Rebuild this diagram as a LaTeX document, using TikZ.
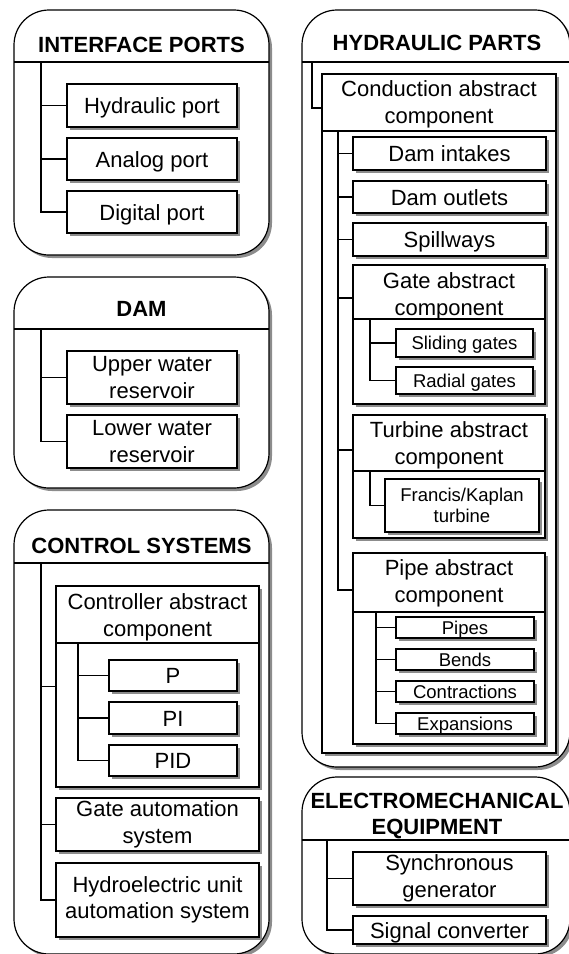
\documentclass[tikz,border=0pt]{standalone}
\usepackage{fontspec}
\setmainfont{Liberation Sans}
\usetikzlibrary{shadows}
\newcommand\fReg{\fontsize{22}{26.5}\selectfont}
\newcommand\fSml{\fontsize{18.5}{21.5}\selectfont}
\newcommand\fTtl{\fontsize{22}{26}\selectfont\bfseries}
\tikzset{
  shd/.style={drop shadow={shadow xshift=3pt,shadow yshift=-3pt,fill=black!45,opacity=1}},
  sz/.style 2 args={minimum width=#1pt, minimum height=#2pt},
  outerbox/.style={draw, line width=1.2pt, fill=white, rounded corners=35pt, shd, anchor=north west, inner sep=0pt, outer sep=0pt},
  ibox/.style={draw, line width=1.2pt, fill=white, shd, anchor=north west, inner sep=0pt, outer sep=0pt, align=center, font=\fReg},
  one/.style={text height=16.6pt, text depth=0pt},
  sml/.style={font=\fSml},
  smlone/.style={font=\fSml, text height=13pt, text depth=0pt},
  ttl/.style={font=\fTtl, anchor=base, inner sep=0pt},
  htxt/.style={font=\fReg, align=center, inner sep=0pt},
  ln/.style={line width=1.2pt},
}
\begin{document}
\begin{tikzpicture}[x=1pt,y=-1pt]
\useasboundingbox (0,0) rectangle (569,954);
\clip (0,0) rectangle (569,954);

% ---------------- INTERFACE PORTS
\node[outerbox, sz={255}{245}] (ip) at (14,10) {};
\draw[ln] (14,62) -- (269,62);
\node[ttl] (ipT) at (141.5,52) {INTERFACE PORTS};
\coordinate (ipK) at (41,62);
\node[ibox, one, sz={170}{43}] (hport) at (67,84) {Hydraulic port};
\node[ibox, one, sz={170}{42}] (aport) at (67,138) {Analog port};
\node[ibox, one, sz={170}{42}] (dport) at (67,191) {Digital port};
\draw[ln] (ipK) |- (hport.west) (ipK) |- (aport.west) (ipK) |- (dport.west);

% ---------------- DAM
\node[outerbox, sz={255}{211}] (dam) at (14,277) {};
\draw[ln] (14,329) -- (269,329);
\node[ttl] (damT) at (141.5,316) {DAM};
\coordinate (damK) at (41,329);
\node[ibox, sz={170}{53}] (upper) at (67,351) {Upper water\\reservoir};
\node[ibox, sz={170}{53}] (lower) at (67,415) {Lower water\\reservoir};
\draw[ln] (damK) |- (upper.west) (damK) |- (lower.west);

% ---------------- CONTROL SYSTEMS
\node[outerbox, sz={255}{444}] (cs) at (14,510) {};
\draw[ln] (14,563) -- (269,563);
\node[ttl] (csT) at (141.5,553) {CONTROL SYSTEMS};
\coordinate (csK) at (41,563);
\node[ibox, sz={203}{201}] (ctrl) at (56,586) {};
\draw[ln] (56,643) -- (259,643);
\node[htxt] (ctrlT) at (157.5,617.3) {Controller abstract\\component};
\coordinate (ctrlK) at (78,643);
\node[ibox, one, sz={128}{31}] (p) at (109,660) {P};
\node[ibox, one, sz={128}{32}] (pi) at (109,702) {PI};
\node[ibox, one, sz={128}{31}] (pid) at (109,745) {PID};
\draw[ln] (ctrlK) |- (p.west) (ctrlK) |- (pi.west) (ctrlK) |- (pid.west);
\node[ibox, sz={203}{53}] (gauto) at (56,798) {Gate automation\\system};
\node[ibox, sz={203}{74}] (hauto) at (56,863) {Hydroelectric unit\\automation system};
\draw[ln] (csK) |- (ctrl.west) (csK) |- (gauto.west) (csK) |- (hauto.west);

% ---------------- HYDRAULIC PARTS
\node[outerbox, sz={268}{757}] (hp) at (302,10) {};
\draw[ln] (302,62) -- (570,62);
\node[ttl] (hpT) at (437,50) {HYDRAULIC PARTS};
\coordinate (hpK) at (312,62);
\node[ibox, sz={234}{679}] (cond) at (322,74) {};
\draw[ln] (322,131) -- (556,131);
\node[htxt] (condT) at (439,104.3) {Conduction abstract\\component};
\coordinate (condC) at (322,108);
\draw[ln] (hpK) |- (condC);
\coordinate (condK) at (338,131);
\node[ibox, one, sz={193}{33}] (intakes) at (353,137) {Dam intakes};
\node[ibox, one, sz={193}{32}] (outlets) at (353,181) {Dam outlets};
\node[ibox, one, sz={193}{33}] (spill) at (353,223) {Spillways};
% gate abstract
\node[ibox, sz={192}{139}] (gate) at (353,265) {};
\draw[ln] (353,319) -- (545,319);
\node[htxt] (gateT) at (449,296.3) {Gate abstract\\component};
\coordinate (gateC) at (353,298);
\coordinate (gateK) at (370,319);
\node[ibox, smlone, sz={137}{28}] (sliding) at (396,329) {Sliding gates};
\node[ibox, smlone, sz={137}{27}] (radial) at (396,367) {Radial gates};
\draw[ln] (gateK) |- (sliding.west) (gateK) |- (radial.west);
% turbine abstract
\node[ibox, sz={192}{123}] (turb) at (353,415) {};
\draw[ln] (353,471) -- (545,471);
\node[htxt] (turbT) at (449,445.3) {Turbine abstract\\component};
\coordinate (turbC) at (353,450);
\coordinate (turbK) at (370,471);
\node[ibox, sml, sz={154}{53}] (francis) at (385,479) {Francis/Kaplan\\turbine};
\draw[ln] (turbK) |- (francis.west);
% pipe abstract
\node[ibox, sz={192}{191}] (pipe) at (353,553) {};
\draw[ln] (353,612) -- (545,612);
\node[htxt] (pipeT) at (449,583.3) {Pipe abstract\\component};
\coordinate (pipeC) at (353,590);
\coordinate (pipeK) at (376,612);
\node[ibox, smlone, sz={138}{21}] (pipes) at (396,617) {Pipes};
\node[ibox, smlone, sz={138}{21}] (bends) at (396,649) {Bends};
\node[ibox, smlone, sz={138}{21}] (contr) at (396,681) {Contractions};
\node[ibox, smlone, sz={138}{21}] (expan) at (396,713) {Expansions};
\draw[ln] (pipeK) |- (pipes.west) (pipeK) |- (bends.west) (pipeK) |- (contr.west) (pipeK) |- (expan.west);
\draw[ln] (condK) |- (intakes.west) (condK) |- (outlets.west) (condK) |- (spill.west)
  (condK) |- (gateC) (condK) |- (turbC) (condK) |- (pipeC);

% ---------------- ELECTROMECHANICAL EQUIPMENT
\node[outerbox, sz={268}{177}] (em) at (302,777) {};
\draw[ln] (302,840) -- (570,840);
\node[htxt, font=\fTtl] (emT) at (437,815.8) {ELECTROMECHANICAL\\EQUIPMENT};
\coordinate (emK) at (327,840);
\node[ibox, sz={193}{53}] (sync) at (353,852) {Synchronous\\generator};
\node[ibox, one, sz={193}{28}] (signal) at (353,916) {Signal converter};
\draw[ln] (emK) |- (sync.west) (emK) |- (signal.west);
\end{tikzpicture}
\end{document}
